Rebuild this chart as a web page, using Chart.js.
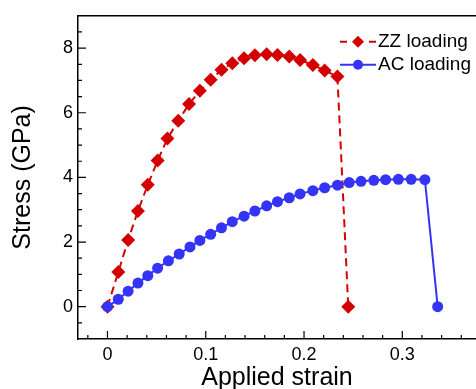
<!DOCTYPE html>
<html>
<head>
<meta charset="utf-8">
<script src="https://cdn.jsdelivr.net/npm/chart.js@4"></script>
<style>
  html, body { margin: 0; padding: 0; background: #fff; overflow: hidden; }
</style>
</head>
<body>
<canvas id="strainChart" width="476" height="389"></canvas>
<script>
const zzStrain = [0, 0.011, 0.021, 0.031, 0.041, 0.051, 0.061, 0.072, 0.083, 0.094, 0.105, 0.116, 0.127, 0.139, 0.150, 0.162, 0.173, 0.185, 0.196, 0.209, 0.221, 0.234, 0.245];
const zzStress = [0, 1.07, 2.06, 2.96, 3.77, 4.52, 5.20, 5.75, 6.27, 6.68, 7.02, 7.33, 7.53, 7.69, 7.78, 7.81, 7.79, 7.74, 7.63, 7.48, 7.31, 7.12, 0];

const acStrain = [0, 0.011, 0.021, 0.031, 0.041, 0.051, 0.062, 0.073, 0.084, 0.094, 0.105, 0.116, 0.127, 0.139, 0.150, 0.162, 0.173, 0.185, 0.196, 0.209, 0.221, 0.234, 0.246, 0.258, 0.271, 0.283, 0.296, 0.309, 0.323, 0.336];
const acStress = [0, 0.23, 0.48, 0.73, 0.96, 1.19, 1.42, 1.63, 1.85, 2.05, 2.24, 2.44, 2.63, 2.80, 2.96, 3.12, 3.25, 3.37, 3.49, 3.59, 3.68, 3.76, 3.84, 3.88, 3.91, 3.93, 3.94, 3.94, 3.93, 0];

const xTickValues = [0, 0.1, 0.2, 0.3];
const xMinorTicks = [-0.02, 0.02, 0.04, 0.06, 0.08, 0.12, 0.14, 0.16, 0.18, 0.22, 0.24, 0.26, 0.28, 0.32, 0.34, 0.36];
const yTickValues = [0, 2, 4, 6, 8];
const yMinorTicks = [-0.5, 0.5, 1, 1.5, 2.5, 3, 3.5, 4.5, 5, 5.5, 6.5, 7, 7.5, 8.5];

const seriesNames = ['ZZ loading', 'AC loading'];
const RED = '#d40000';
const BLUE = '#3434f8';
const FONT = 'Arial, "Liberation Sans", sans-serif';

const toPoints = (xs, ys) => xs.map((v, i) => ({ x: v, y: ys[i] }));

// ticks pointing inward, top frame line and the legend
const framePlugin = {
    id: 'framePlugin',
    afterDraw(chart) {
        const { ctx, chartArea: a, scales: { x, y } } = chart;
        ctx.save();
        ctx.strokeStyle = '#000';
        ctx.lineWidth = 1.2;
        ctx.beginPath();
        xTickValues.forEach(v => {
            const px = x.getPixelForValue(v);
            ctx.moveTo(px, a.bottom); ctx.lineTo(px, a.bottom - 8);
        });
        xMinorTicks.forEach(v => {
            const px = x.getPixelForValue(v);
            ctx.moveTo(px, a.bottom); ctx.lineTo(px, a.bottom - 4);
        });
        yTickValues.forEach(v => {
            const py = y.getPixelForValue(v);
            ctx.moveTo(a.left, py); ctx.lineTo(a.left + 8, py);
        });
        yMinorTicks.forEach(v => {
            const py = y.getPixelForValue(v);
            ctx.moveTo(a.left, py); ctx.lineTo(a.left + 4, py);
        });
        ctx.stroke();

        ctx.lineWidth = 1.5;
        ctx.beginPath();
        ctx.moveTo(a.left, a.top); ctx.lineTo(a.right, a.top);
        ctx.stroke();

        // legend
        const lx = a.right - 136;
        const rows = [a.top + 26, a.top + 49];
        ctx.lineWidth = 2;
        ctx.strokeStyle = RED;
        ctx.beginPath();
        ctx.moveTo(lx, rows[0]); ctx.lineTo(lx + 7, rows[0]);
        ctx.moveTo(lx + 29, rows[0]); ctx.lineTo(lx + 36, rows[0]);
        ctx.stroke();
        ctx.fillStyle = RED;
        ctx.beginPath();
        ctx.moveTo(lx + 18, rows[0] - 6); ctx.lineTo(lx + 24, rows[0]);
        ctx.lineTo(lx + 18, rows[0] + 6); ctx.lineTo(lx + 12, rows[0]);
        ctx.closePath(); ctx.fill();

        ctx.strokeStyle = BLUE;
        ctx.beginPath();
        ctx.moveTo(lx, rows[1]); ctx.lineTo(lx + 36, rows[1]);
        ctx.stroke();
        ctx.fillStyle = BLUE;
        ctx.beginPath();
        ctx.arc(lx + 18, rows[1], 5, 0, Math.PI * 2);
        ctx.fill();

        ctx.fillStyle = '#000';
        ctx.font = '19px ' + FONT;
        ctx.textBaseline = 'middle';
        ctx.textAlign = 'left';
        ctx.fillText(seriesNames[0], lx + 38, rows[0]);
        ctx.fillText(seriesNames[1], lx + 38, rows[1]);
        ctx.restore();
    }
};

const ctx = document.getElementById('strainChart').getContext('2d');
const strainChart = new Chart(ctx, {
    type: 'line',
    data: {
        datasets: [{
            label: seriesNames[0],
            data: toPoints(zzStrain, zzStress),
            borderColor: RED,
            backgroundColor: RED,
            borderWidth: 2,
            borderDash: [8, 5],
            pointStyle: 'rectRot',
            pointRadius: 7,
            pointBorderWidth: 0,
            order: 1
        }, {
            label: seriesNames[1],
            data: toPoints(acStrain, acStress),
            borderColor: BLUE,
            backgroundColor: BLUE,
            borderWidth: 2,
            pointStyle: 'circle',
            pointRadius: 5.5,
            pointBorderWidth: 0,
            order: 0
        }]
    },
    options: {
        responsive: false,
        animation: false,
        layout: { autoPadding: false, padding: { top: 12, right: 0, left: 0, bottom: 0 } },
        plugins: { legend: { display: false }, tooltip: { enabled: false } },
        scales: {
            x: {
                type: 'linear',
                min: -0.03,
                max: 0.375,
                afterBuildTicks: s => { s.ticks = xTickValues.map(v => ({ value: v })); },
                afterFit: s => { s.height = 50; },
                grid: { display: false, drawTicks: false },
                border: { display: true, color: '#000', width: 1.5 },
                ticks: { color: '#000', font: { size: 18, family: FONT }, padding: 5, maxRotation: 0 },
                title: { display: true, text: 'Applied strain', color: '#000', font: { size: 25, family: FONT, lineHeight: 0.9 }, padding: { top: 0, bottom: 0 } }
            },
            y: {
                type: 'linear',
                min: -1,
                max: 9,
                afterBuildTicks: s => { s.ticks = yTickValues.map(v => ({ value: v })); },
                afterFit: s => { s.width = 78; },
                grid: { display: false, drawTicks: false },
                border: { display: true, color: '#000', width: 1.5 },
                ticks: { color: '#000', font: { size: 18, family: FONT }, padding: 5 },
                title: { display: true, text: 'Stress (GPa)', color: '#000', font: { size: 25, family: FONT }, padding: { top: 8, bottom: 0 } }
            }
        }
    },
    plugins: [framePlugin]
});
</script>
</body>
</html>
